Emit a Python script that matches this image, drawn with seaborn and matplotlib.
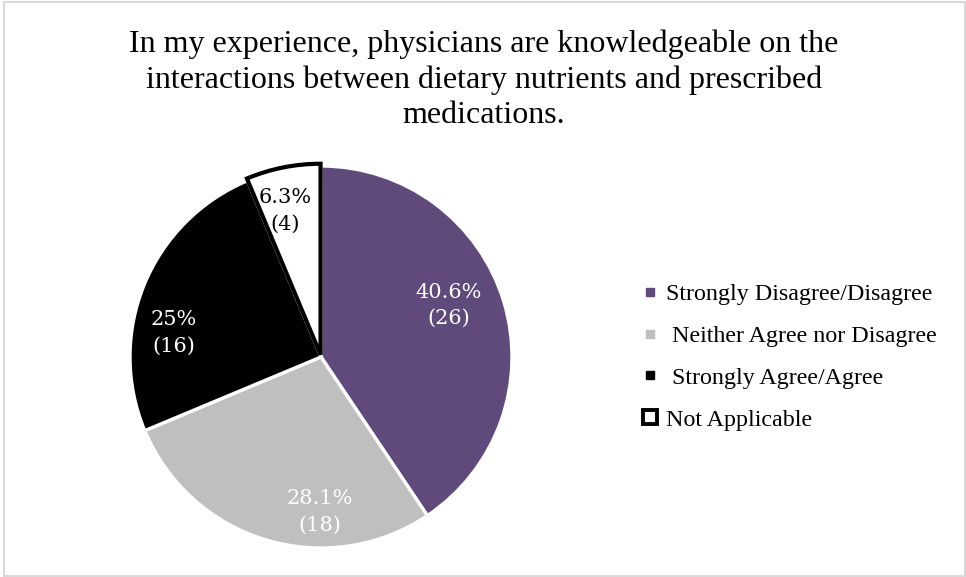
import matplotlib
matplotlib.use("Agg")
import matplotlib.pyplot as plt
from matplotlib.patches import Rectangle
from matplotlib.lines import Line2D
import seaborn as sns

# Survey responses
categories = ["Strongly Disagree/Disagree", "Neither Agree nor Disagree",
              "Strongly Agree/Agree", "Not Applicable"]
legend_labels = ["Strongly Disagree/Disagree", " Neither Agree nor Disagree",
                 " Strongly Agree/Agree", "Not Applicable"]
counts = [26, 18, 16, 4]
percents = [40.6, 28.1, 25.0, 6.3]
percent_text = ["40.6%", "28.1%", "25%", "6.3%"]

title = ("In my experience, physicians are knowledgeable on the\n"
         "interactions between dietary nutrients and prescribed\n"
         "medications.")

sns.set_theme(style="white")
plt.rcParams["font.family"] = ["Liberation Serif", "DejaVu Serif"]
plt.rcParams["text.color"] = "black"

palette = ["#604A7B", "#BFBFBF", "#000000", "#FFFFFF"]
label_colors = ["white", "white", "white", "black"]
# label anchor points, in units of the pie radius
label_xy = [(0.67, 0.27), (-0.005, -0.81), (-0.77, 0.125), (-0.19, 0.765)]

W, H = 966, 577
fig = plt.figure(figsize=(W / 100, H / 100), dpi=100)
fig.patch.set_facecolor("white")

# light frame around the chart area
fig.add_artist(Rectangle((3.5 / W, 1.5 / H), (961 / W), (574 / H),
                         transform=fig.transFigure, fill=False,
                         edgecolor="#D9D9D9", linewidth=1.5))

# pie axes: centre (321, 357) px, radius ~191 px
cx, cy, r = 321, 357, 191
lim = 1.08
half = r * lim
ax = fig.add_axes([(cx - half) / W, (H - cy - half) / H, 2 * half / W, 2 * half / H])

wedges, _ = ax.pie(percents, colors=palette, startangle=90, counterclock=False,
                   explode=[0, 0, 0, 0.012], radius=1.0,
                   wedgeprops=dict(edgecolor="white", linewidth=2.4))
na = wedges[3]
na.set_edgecolor("black")
na.set_linewidth(3)
na.set_zorder(3)

ax.set_xlim(-lim, lim)
ax.set_ylim(-lim, lim)
ax.set_aspect("equal")
ax.axis("off")

for i, n in enumerate(counts):
    x, y = label_xy[i]
    ax.text(x, y, f"{percent_text[i]}\n({n})", ha="center", va="center",
            color=label_colors[i], fontsize=15, family=["DejaVu Serif"],
            linespacing=1.5, zorder=5)

# title
fig.text(484 / W, 1 - 79.5 / H, title, ha="center", va="center",
         fontsize=23, linespacing=1.28, color="black")

# legend
handles = [
    Line2D([], [], marker="s", linestyle="none", markersize=6,
           markerfacecolor=palette[0], markeredgecolor=palette[0]),
    Line2D([], [], marker="s", linestyle="none", markersize=6,
           markerfacecolor=palette[1], markeredgecolor=palette[1]),
    Line2D([], [], marker="s", linestyle="none", markersize=6,
           markerfacecolor=palette[2], markeredgecolor=palette[2]),
    Line2D([], [], marker="s", linestyle="none", markersize=9.5,
           markerfacecolor="white", markeredgecolor="black", markeredgewidth=2.8),
]
leg = fig.legend(handles, legend_labels, loc="center left",
                 bbox_to_anchor=(632 / W, 1 - 357 / H), frameon=False,
                 fontsize=17.3, handlelength=0.7, handletextpad=0.3,
                 labelspacing=0.83, borderaxespad=0)
for t in leg.get_texts():
    t.set_color("black")

fig.savefig("out.png", dpi=100, facecolor="white")
